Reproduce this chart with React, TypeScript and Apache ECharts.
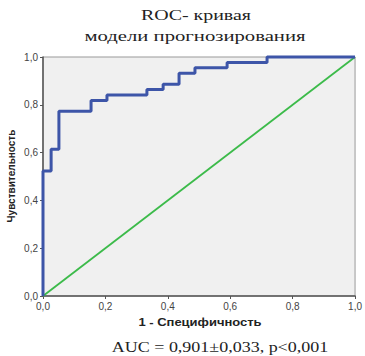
import React, { useEffect, useRef } from "react";
import * as echarts from "echarts";

// ROC curve points (1 - specificity, sensitivity)
const fpr = [0, 0, 0.026, 0.051, 0.154, 0.205, 0.333, 0.385, 0.436, 0.487, 0.59, 0.718, 1.0];
const tpr = [0, 0.523, 0.614, 0.773, 0.818, 0.841, 0.864, 0.886, 0.932, 0.955, 0.977, 1.0, 1.0];
// reference diagonal
const refX = [0, 1];
const refY = [0, 1];
const tickLabels = ["0,0", "0,2", "0,4", "0,6", "0,8", "1,0"];

const titleLines = ["ROC- кривая", "модели прогнозирования"];
const xName = "1 - Специфичность";
const yName = "Чувствительность";
const aucText = "AUC = 0,901±0,033, p<0,001";

export default function App() {
  const ref = useRef<HTMLDivElement>(null);
  useEffect(() => {
    document.body.style.margin = "0";
    if (!ref.current) return;
    const chart = echarts.init(ref.current, null, { renderer: "svg" });
    const fmt = (v: number) => tickLabels[Math.round(v / 0.2)] ?? "";
    const axisCommon = {
      type: "value" as const,
      min: 0,
      max: 1,
      interval: 0.2,
      splitLine: { show: false },
      axisLine: { show: true, onZero: false, lineStyle: { color: "#555", width: 1.5 } },
      axisTick: { show: true, length: 3, inside: false, lineStyle: { color: "#555", width: 1 } },
      axisLabel: {
        formatter: fmt,
        fontFamily: "Liberation Sans, Arial, sans-serif",
        fontSize: 10,
        color: "#444",
      },
    };
    const serif = '"Liberation Serif", "Times New Roman", serif';
    const sans = '"Liberation Sans", Arial, sans-serif';
    chart.setOption({
      animation: false,
      grid: {
        left: 43,
        right: 7,
        top: 57,
        bottom: 60,
        show: true,
        backgroundColor: "#f0f0f0",
        borderColor: "#999",
        borderWidth: 1,
      },
      xAxis: { ...axisCommon, axisLabel: { ...axisCommon.axisLabel, margin: 5 } },
      yAxis: { ...axisCommon, axisLabel: { ...axisCommon.axisLabel, margin: 5 } },
      series: [
        {
          type: "line",
          data: refX.map((x, i) => [x, refY[i]]),
          symbol: "none",
          lineStyle: { color: "#3cbb4a", width: 1.8 },
          z: 2,
        },
        {
          type: "line",
          data: fpr.map((x, i) => [x, tpr[i]]),
          step: "end",
          symbol: "none",
          clip: false,
          lineStyle: { color: "#3d55a8", width: 3 },
          z: 3,
        },
      ],
      graphic: [
        {
          type: "text",
          x: 196,
          y: 15,
          scaleX: 1.33,
          style: { text: titleLines[0], x: 0, y: 0, align: "center", verticalAlign: "middle", fontFamily: serif, fontSize: 15, fill: "#222" },
        },
        {
          type: "text",
          x: 195,
          y: 36,
          scaleX: 1.38,
          style: { text: titleLines[1], x: 0, y: 0, align: "center", verticalAlign: "middle", fontFamily: serif, fontSize: 15, fill: "#222" },
        },
        {
          type: "text",
          x: 200,
          y: 323,
          scaleX: 1.3,
          style: { text: xName, x: 0, y: 0, align: "center", verticalAlign: "middle", fontFamily: sans, fontWeight: "bold", fontSize: 10, fill: "#222" },
        },
        {
          type: "text",
          x: 11,
          y: 176,
          rotation: Math.PI / 2,
          style: { text: yName, x: 0, y: 0, align: "center", verticalAlign: "middle", fontFamily: sans, fontWeight: "bold", fontSize: 10, fill: "#222" },
        },
        {
          type: "text",
          x: 220,
          y: 347,
          scaleX: 1.2,
          style: { text: aucText, x: 0, y: 0, align: "center", verticalAlign: "middle", fontFamily: serif, fontSize: 15, fill: "#222" },
        },
      ],
    });
    return () => chart.dispose();
  }, []);
  return <div ref={ref} style={{ width: 365, height: 356 }} />;
}
